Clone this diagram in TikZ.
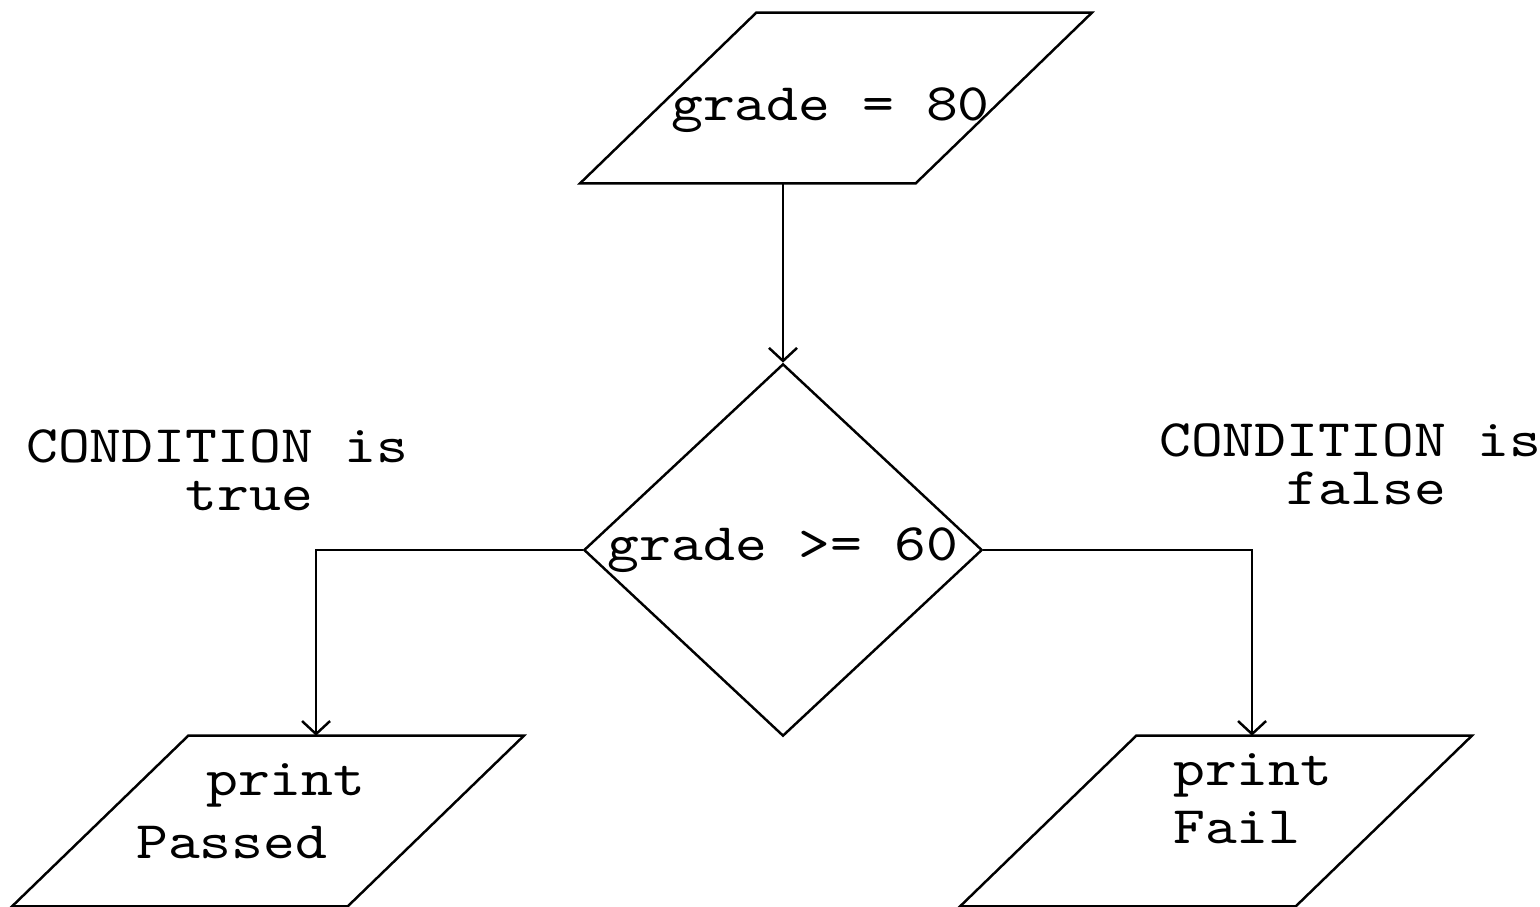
\documentclass[tikz,border=0pt]{standalone}
\usepackage{fontspec}
\newfontfamily\codefont{lmmono10-regular}[Extension=.otf,FakeStretch=1.15]
\usetikzlibrary{shapes.geometric,arrows.meta}

\begin{document}
\begin{tikzpicture}[
  x=0.01cm, y=-0.01cm, line width=0.7pt,
  texto/.style={font=\codefont\fontsize{15}{13.7}\selectfont, inner sep=0pt},
  caja/.style={minimum width=3.33cm, minimum height=1.68cm, inner sep=0pt},
  decision/.style={diamond, draw, texto, aspect=1.07, minimum width=3.95cm, minimum height=3.7cm},
  flecha/.style={-{Straight Barb[length=0.13cm,width=0.28cm]}}
]
  \useasboundingbox (0,0) rectangle (1540,907);
  \node[caja]     (nota)  at (836,98)   {};
  \node[decision] (cond)  at (783,550)  {grade >= 60};
  \node[caja]     (pasa)  at (268,821)  {};
  \node[caja]     (falla) at (1216,821) {};
  % paralelogramos de entrada/salida
  \foreach \n in {nota,pasa,falla}
    \draw ([xshift=0.88cm]\n.north west) -- ([xshift=0.88cm]\n.north east)
      -- ([xshift=-0.88cm]\n.south east) -- ([xshift=-0.88cm]\n.south west) -- cycle;
  \draw[flecha] (nota.south -| cond.north) -- (cond.north);
  \draw[flecha] (cond.west) -| ([xshift=0.48cm]pasa.north);
  \draw[flecha] (cond.east) -| ([xshift=0.36cm]falla.north);
  % textos
  \node[texto, anchor=base west] (notatxt) at (670,121) {grade = 80};
  \node[texto, align=left, anchor=north west, font=\codefont\fontsize{15}{17.9}\selectfont]
    (pasatxt) at (135,762) {\hspace*{0.7cm}print\\Passed};
  \node[texto, align=left, anchor=north west, font=\codefont\fontsize{15}{16.5}\selectfont]
    (fallatxt) at (1172,752) {print\\Fail};
  \node[texto, align=left, anchor=north west] (si) at (25,428) {CONDITION is\\\phantom{CONDI}true};
  \node[texto, align=left, anchor=north west] (no) at (1158,422) {CONDITION is\\\phantom{COND}false};
\end{tikzpicture}
\end{document}
